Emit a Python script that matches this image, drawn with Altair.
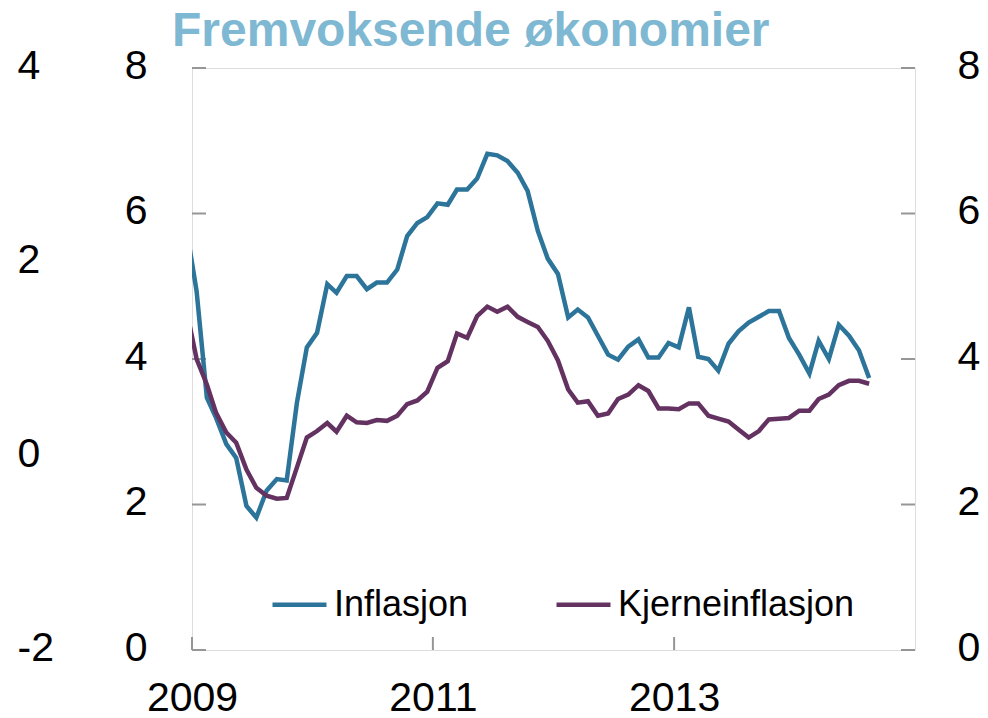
import altair as alt
import pandas as pd

# ---- data (monthly, Dec 2008 - Aug 2014; Dec 2008 only feeds the clipped start) ----
first_year, first_month = 2008, 12
inflasjon = [5.80, 4.93, 3.47, 3.19, 2.83, 2.64, 1.98, 1.82, 2.19, 2.35, 2.33, 3.40,
             4.16, 4.36, 5.03, 4.91, 5.14, 5.14, 4.96, 5.05, 5.05, 5.23, 5.69, 5.87,
             5.95, 6.14, 6.12, 6.33, 6.33, 6.48, 6.82, 6.80, 6.72, 6.56, 6.31, 5.76,
             5.38, 5.17, 4.57, 4.68, 4.57, 4.32, 4.06, 3.99, 4.17, 4.27, 4.02, 4.02,
             4.22, 4.16, 4.71, 4.03, 4.00, 3.84, 4.21, 4.38, 4.50, 4.58, 4.66, 4.66,
             4.29, 4.06, 3.80, 4.25, 4.00, 4.47, 4.32, 4.12, 3.74]
kjerneinflasjon = [4.68, 4.00, 3.65, 3.26, 2.99, 2.85, 2.48, 2.23, 2.12, 2.08, 2.09, 2.51,
                   2.92, 3.01, 3.12, 3.00, 3.22, 3.13, 3.12, 3.16, 3.15, 3.22, 3.38, 3.43,
                   3.55, 3.88, 3.97, 4.35, 4.29, 4.59, 4.72, 4.65, 4.72, 4.58, 4.51, 4.44,
                   4.25, 3.98, 3.58, 3.40, 3.42, 3.22, 3.25, 3.45, 3.51, 3.64, 3.56, 3.32,
                   3.32, 3.31, 3.39, 3.39, 3.22, 3.18, 3.14, 3.03, 2.92, 3.01, 3.17, 3.18,
                   3.19, 3.29, 3.29, 3.45, 3.51, 3.64, 3.70, 3.70, 3.66]
series_names = ["Inflasjon", "Kjerneinflasjon"]
series_colors = ["#2C7499", "#633261"]
x_tick_years = [2009, 2011, 2013]
y_ticks = [0, 2, 4, 6, 8]
outer_ticks = [-2, 0, 2, 4]
title_text = "Fremvoksende økonomier"

dates = []
y, m = first_year, first_month
for _ in range(len(inflasjon)):
    dates.append(f"{y}-{m:02d}-15")
    m += 1
    if m > 12:
        m, y = 1, y + 1

df = pd.DataFrame({
    "date": dates + dates,
    "value": inflasjon + kjerneinflasjon,
    "serie": [series_names[0]] * len(dates) + [series_names[1]] * len(dates),
})
xt_df = pd.DataFrame({"date": [f"{yr}-01-01" for yr in x_tick_years]})
yt_df = pd.DataFrame({"v": y_ticks})
rt_df = pd.DataFrame({"r": y_ticks})
ot_df = pd.DataFrame({"o": outer_ticks})

W, H = 723, 582
FONT = "Liberation Sans"
GRAY = "#969696"

xscale = alt.Scale(domain=[alt.DateTime(year=2009, month=1, date=1),
                           alt.DateTime(year=2015, month=1, date=1)])
yscale = alt.Scale(domain=[0, 8], nice=False, zero=False)
yscale_r = alt.Scale(domain=[0, 8], nice=False, zero=False)

x_axis = alt.Axis(values=[alt.DateTime(year=yr, month=1, date=1) for yr in x_tick_years],
                  format="%Y", title=None, labelFontSize=41, labelFont=FONT,
                  labelColor="black", labelPadding=28, ticks=False, tickSize=0,
                  domain=False, grid=False, labelAngle=0, labelFlush=False)
left_axis = alt.Axis(values=y_ticks, title=None, orient="left", labelFontSize=41,
                     labelFont=FONT, labelColor="black", labelPadding=45, ticks=False,
                     tickSize=0, domain=False, grid=False, labelFlush=False,
                     labelAlign="right", labelOffset=-2)
right_axis = alt.Axis(values=y_ticks, title=None, orient="right", labelFontSize=41,
                      labelFont=FONT, labelColor="black", labelPadding=42, ticks=False,
                      tickSize=0, domain=False, grid=False, labelFlush=False,
                      labelAlign="left", offset=0, labelOffset=-2)
outer_axis = alt.Axis(values=outer_ticks, title=None, orient="left", labelFontSize=41,
                      labelFont=FONT, labelColor="black", labelPadding=175, labelAlign="left",
                      ticks=False, tickSize=0, domain=False, grid=False, labelFlush=False,
                      labelExpr="'' + datum.value", labelOffset=-2)

lines = alt.Chart(df).mark_line(strokeWidth=4.5, clip=True).encode(
    x=alt.X("date:T", scale=xscale, axis=x_axis),
    y=alt.Y("value:Q", scale=yscale, axis=left_axis),
    color=alt.Color("serie:N",
                    scale=alt.Scale(domain=series_names, range=series_colors),
                    legend=alt.Legend(orient="none", legendX=78, legendY=507,
                                      direction="horizontal", title=None,
                                      labelFontSize=36, labelFont=FONT, labelColor="black",
                                      symbolType="stroke", symbolSize=2916,
                                      symbolStrokeWidth=4.5, labelOffset=5,
                                      columnPadding=78, padding=0, labelLimit=500)),
    order=alt.Order("serie:N"),
)

left_ticks = alt.Chart(yt_df).mark_rule(color=GRAY, strokeWidth=2).encode(
    y=alt.Y("v:Q", scale=yscale, axis=left_axis),
    x=alt.value(0), x2=alt.value(14),
)
x_ticks = alt.Chart(xt_df).mark_rule(color=GRAY, strokeWidth=2).encode(
    x=alt.X("date:T", scale=xscale, axis=x_axis),
    y=alt.value(H), y2=alt.value(H - 13),
)
main = alt.layer(left_ticks, x_ticks, lines)

right_layer = alt.Chart(rt_df).mark_rule(color=GRAY, strokeWidth=2).encode(
    y=alt.Y("r:Q", scale=yscale_r, axis=right_axis),
    x=alt.value(W - 14), x2=alt.value(W),
)
outer_layer = alt.Chart(ot_df).mark_rule(opacity=0).encode(
    y=alt.Y("o:Q", scale=alt.Scale(domain=[-2, 4], nice=False, zero=False), axis=outer_axis),
    x=alt.value(0), x2=alt.value(1),
)

chart = alt.layer(main, right_layer, outer_layer).resolve_scale(
    y="independent"
).resolve_axis(
    y="independent"
).properties(
    width=W, height=H,
    title=alt.TitleParams(title_text, fontSize=48, font=FONT, fontWeight="bold",
                          color="#7FB8D2", anchor="start", frame="group", dx=-20,
                          offset=-11),
    padding={"left": 9, "top": 0, "right": 0, "bottom": 0},
).configure_view(
    stroke=GRAY, strokeWidth=2
).configure(background="white")

chart.save("out.html", embed_options={"renderer": "svg", "actions": False})
